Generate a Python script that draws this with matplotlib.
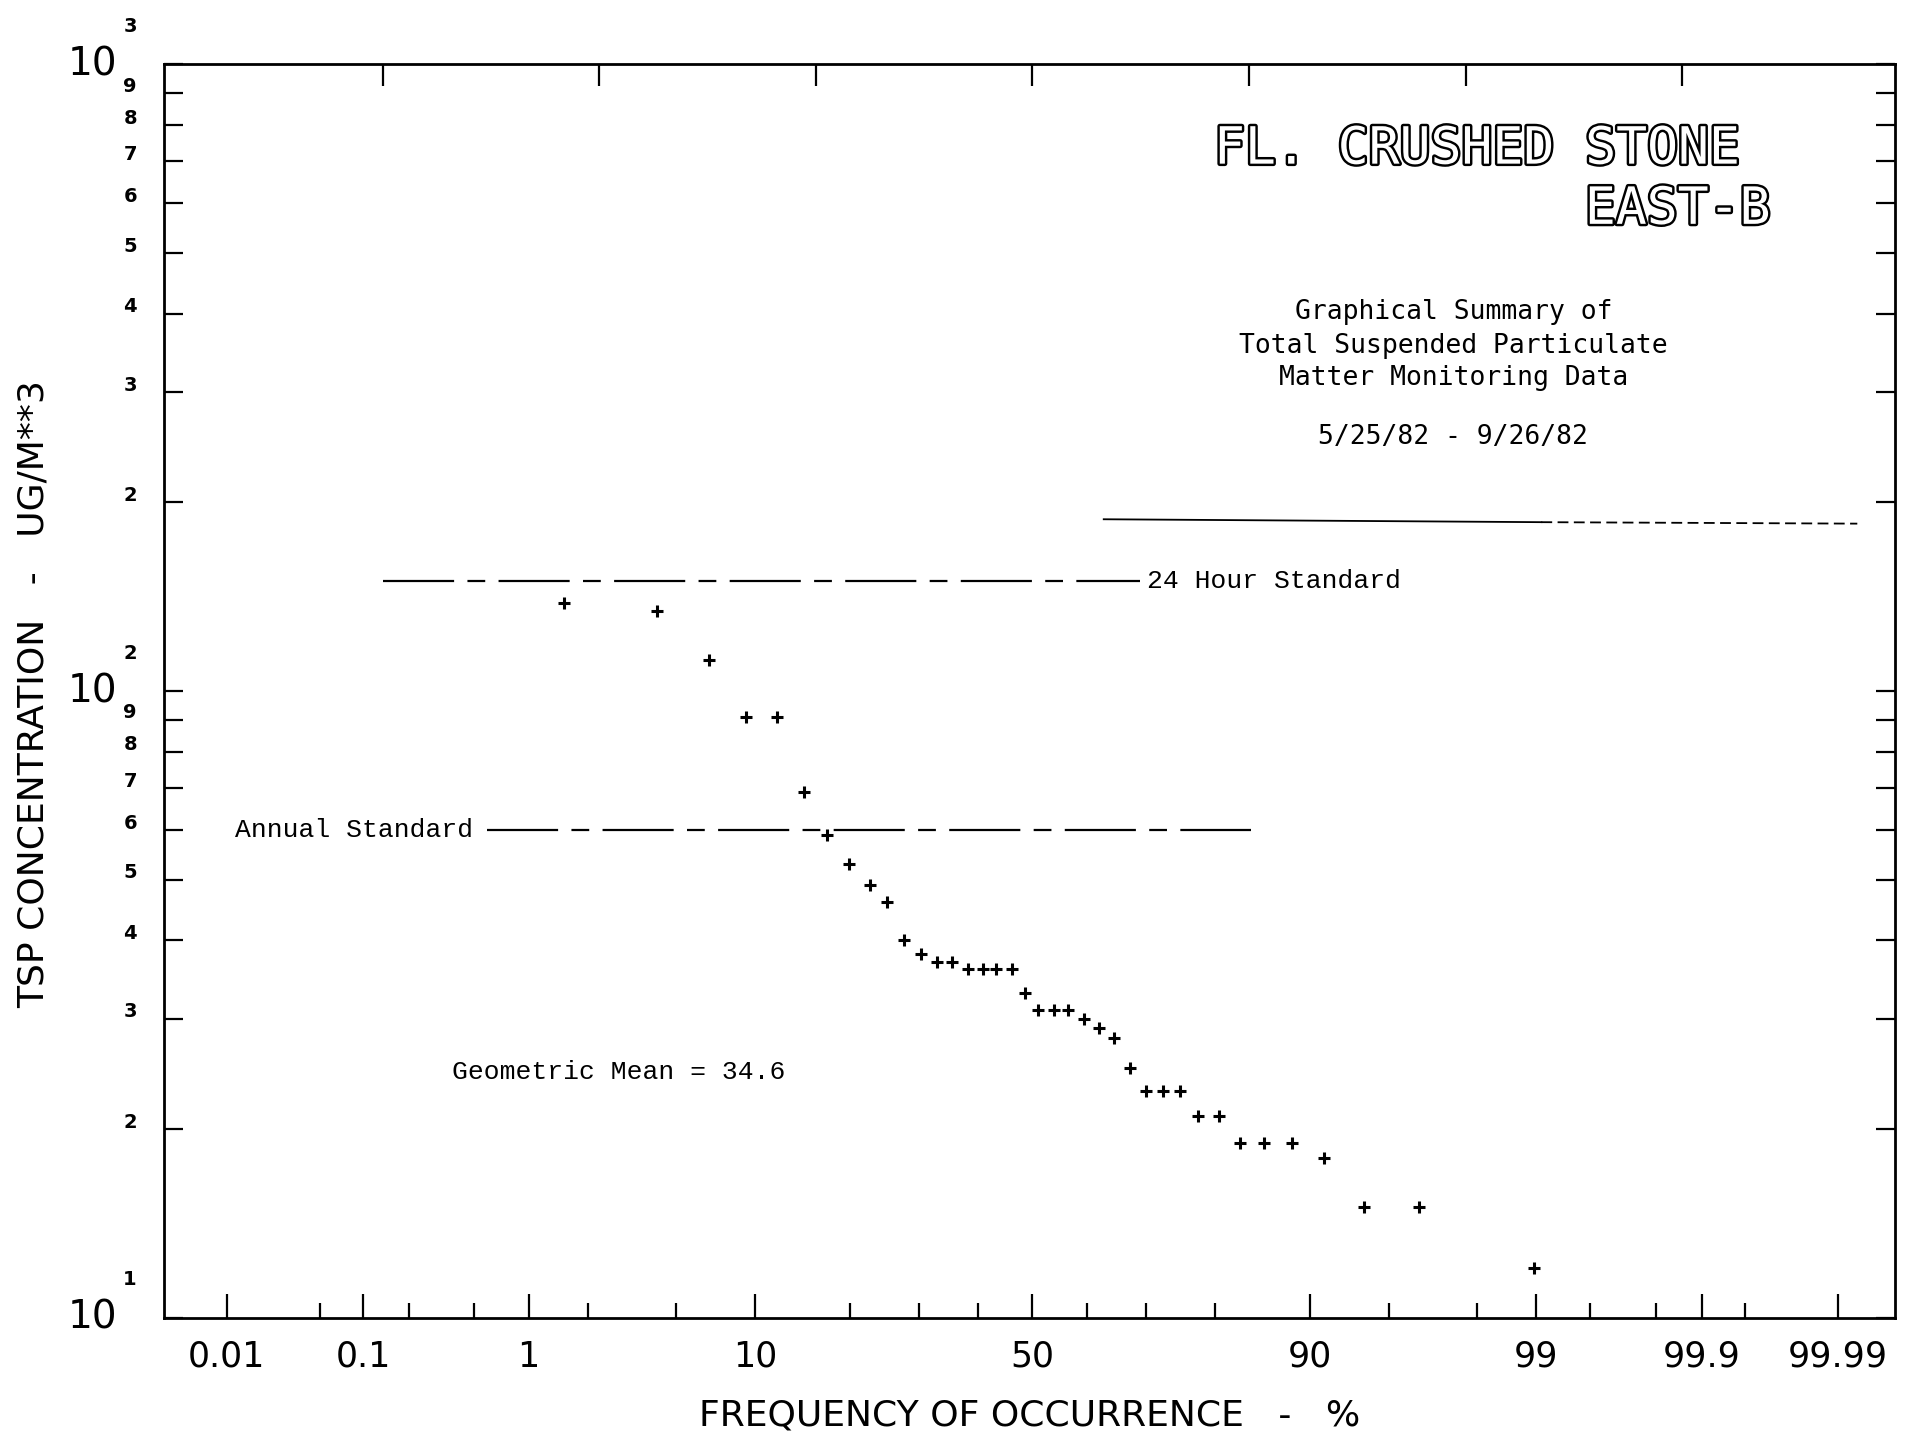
from statistics import NormalDist

import numpy as np
import matplotlib
matplotlib.use("Agg")
import matplotlib.pyplot as plt
import matplotlib.patheffects as pe
from matplotlib.ticker import FixedLocator, NullFormatter, NullLocator
from matplotlib.transforms import blended_transform_factory, offset_copy

# TSP samples, FL. Crushed Stone, East-B (5/25/82 - 9/26/82)
freq_pct = [1.53, 4.15, 6.77, 9.29, 11.9, 14.6, 17.1, 19.8, 22.6, 25.1,
            27.7, 30.4, 32.9, 35.5, 38.3, 41.0, 43.4, 46.3, 48.7, 51.1,
            54.0, 56.5, 59.4, 62.1, 64.6, 67.4, 70.0, 72.6, 75.2, 77.8,
            80.5, 83.1, 85.7, 88.5, 91.1, 93.7, 96.3, 98.97]
tsp_conc = [138, 134, 112, 91, 91, 69, 59, 53, 49, 46,
            40, 38, 37, 37, 36, 36, 36, 36, 33, 31,
            31, 31, 30, 29, 28, 25, 23, 23, 23, 21,
            21, 19, 19, 19, 18, 15, 15, 12]
geo_mean = 34.6

# standards
std_24h = 150
std_24h_span = [0.135, 69.0]
std_annual = 60
std_annual_span = [0.59, 84.3]

# paste-up edge visible on the scan
edge_pct = [62.9, 99.06, 99.993]
edge_conc = [188, 186, 185]

# axis ticks
x_major = [0.01, 0.1, 1, 10, 50, 90, 99, 99.9, 99.99]
x_major_labels = ["0.01", "0.1", "1", "10", "50", "90", "99", "99.9", "99.99"]
x_minor = [0.05, 0.2, 0.5, 2, 5, 20, 30, 40, 60, 70, 80, 95, 98, 99.5, 99.8, 99.95]
top_sigma = [-3, -2, -1, 0, 1, 2, 3]
y_decades = [10, 100, 1000]
y_exponents = ["1", "2", "3"]
y_minor = [20, 30, 40, 50, 60, 70, 80, 90, 200, 300, 400, 500, 600, 700, 800, 900]

nd = NormalDist()


def to_z(p):
    p = np.clip(np.asarray(p, dtype=float) / 100.0, 1e-9, 1 - 1e-9)
    return np.vectorize(nd.inv_cdf, otypes=[float])(p)


def to_pct(z):
    return np.vectorize(nd.cdf, otypes=[float])(np.asarray(z, dtype=float)) * 100.0


NARROW = ["Liberation Sans Narrow", "DejaVu Sans"]
PLOTTER = ["Liberation Mono", "DejaVu Sans Mono"]

fig = plt.figure(figsize=(19.05, 14.5), dpi=100)
ax = fig.add_axes([0.086, 0.0912, 0.9085, 0.8644])

ax.set_xscale("function", functions=(to_z, to_pct))
ax.set_yscale("log")
xlim = (float(to_pct(-4.01)), float(to_pct(3.98)))
ax.set_xlim(xlim)
ax.set_ylim(10, 1000)

for s in ax.spines.values():
    s.set_linewidth(2)

# data
ax.plot(freq_pct, tsp_conc, linestyle="none", marker="+", ms=9, mew=2.2, color="black")

# standards
ax.plot(std_24h_span, [std_24h, std_24h], color="black", lw=1.6,
        linestyle=(0, (32, 6, 8, 6)))
ax.text(70.1, std_24h, "24 Hour Standard", ha="left", va="center",
        family=PLOTTER, fontsize=19)
ax.plot(std_annual_span, [std_annual, std_annual], color="black", lw=1.6,
        linestyle=(0, (32, 6, 8, 6)))
ax.text(0.0115, std_annual, "Annual Standard", ha="left", va="center",
        family=PLOTTER, fontsize=19)
ax.text(0.368, 24.7, f"Geometric Mean = {geo_mean}", ha="left", va="center",
        family=PLOTTER, fontsize=19)

ax.plot(edge_pct[:2], edge_conc[:2], color="black", lw=1.3)
ax.plot(edge_pct[1:], edge_conc[1:], color="black", lw=1.3, linestyle=(0, (6, 3)))

# titles
outline = [pe.withStroke(linewidth=3.5, foreground="black")]
ax.text(79.9, 731, "FL. CRUSHED STONE", ha="left", va="center",
        family="DejaVu Sans Mono", fontsize=37, color="white", path_effects=outline)
ax.text(99.967, 586, "EAST-B", ha="right", va="center",
        family="DejaVu Sans Mono", fontsize=37, color="white", path_effects=outline)
sub_lines = ["Graphical Summary of", "Total Suspended Particulate",
             "Matter Monitoring Data"]
sub_y = [402, 355, 316]
for line, yv in zip(sub_lines, sub_y):
    ax.text(97.4, yv, line, ha="center", va="center",
            family="DejaVu Sans Mono", fontsize=19)
ax.text(97.4, 254, "5/25/82 - 9/26/82", ha="center", va="center",
        family="DejaVu Sans Mono", fontsize=19)

# x ticks
ax.set_xticks(x_major)
ax.set_xticklabels(x_major_labels, family=NARROW, fontsize=25)
ax.xaxis.set_minor_locator(FixedLocator(x_minor))
ax.xaxis.set_minor_formatter(NullFormatter())
ax.tick_params(axis="x", which="major", direction="in", length=17, width=1.6,
               pad=16, top=False)
ax.tick_params(axis="x", which="minor", direction="in", length=11, width=1.6,
               top=False)

# top sigma ticks
ax_top = ax.twiny()
ax_top.set_xscale("function", functions=(to_z, to_pct))
ax_top.set_xlim(xlim)
ax_top.set_xticks(to_pct(top_sigma))
ax_top.xaxis.set_minor_locator(NullLocator())
ax_top.tick_params(axis="x", direction="in", length=16, width=1.6,
                   labeltop=False, top=True, bottom=False)
for s in ax_top.spines.values():
    s.set_visible(False)

# y ticks
ax.yaxis.set_major_locator(FixedLocator(y_decades))
ax.yaxis.set_minor_locator(FixedLocator(y_minor))
ax.yaxis.set_major_formatter(NullFormatter())
ax.yaxis.set_minor_formatter(NullFormatter())
ax.tick_params(axis="y", which="both", direction="in", length=14, width=1.6,
               left=True, right=True)

trans = blended_transform_factory(ax.transAxes, ax.transData)
exp_trans = offset_copy(trans, fig=fig, x=0, y=38, units="dots")
minor_trans = offset_copy(trans, fig=fig, x=0, y=7, units="dots")
for d, e in zip(y_decades, y_exponents):
    ax.text(-0.027, d, "10", transform=trans, ha="right", va="center",
            family=NARROW, fontsize=28)
    ax.text(-0.0195, d, e, transform=exp_trans, ha="center", va="center",
            fontsize=14, fontweight="bold")
for v in y_minor:
    digit = str(int(round(v / 10 ** np.floor(np.log10(v)))))
    ax.text(-0.0195, v, digit, transform=minor_trans, ha="center", va="center",
            fontsize=14, fontweight="bold")

# axis labels
ax.text(0.5, -0.0778, "FREQUENCY OF OCCURRENCE   -   %", transform=ax.transAxes,
        ha="center", va="center", family=NARROW, fontsize=26)
ax.text(-0.0751, 0.498, "TSP CONCENTRATION   -   UG/M**3", transform=ax.transAxes,
        ha="center", va="center", rotation=90, family=NARROW, fontsize=26)

fig.savefig("out.png", dpi=100)
